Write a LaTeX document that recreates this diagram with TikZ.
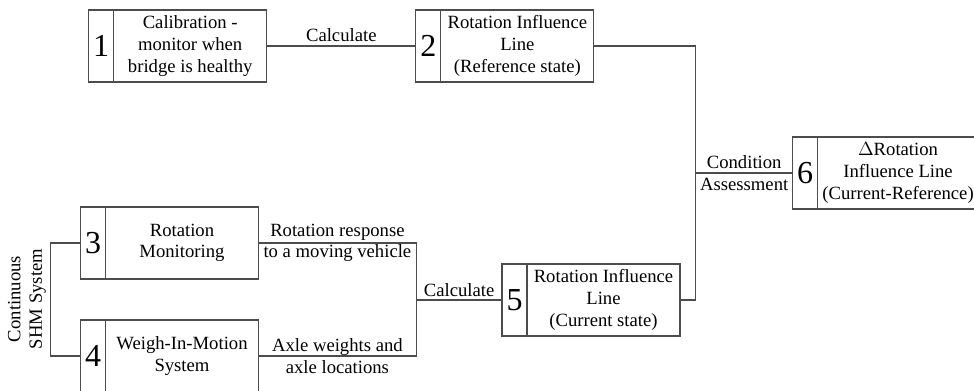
\documentclass[tikz,border=0pt]{standalone}
\usepackage{fontspec}
\setmainfont{Liberation Serif}
\usepackage{xcolor}
\usetikzlibrary{calc, positioning}

\tikzset{
  numbox/.style={draw=black!70, line width=0.8pt, minimum width=18.75pt, minimum height=54pt,
    inner sep=0pt, outer sep=0pt, font=\fontsize{24}{26}\selectfont},
  textbox/.style={draw=black!70, line width=0.8pt, minimum width=114.75pt, minimum height=54pt,
    inner sep=0pt, outer sep=0pt, align=center, font=\fontsize{14}{16.2}\selectfont},
  lbl/.style={align=center, inner sep=1pt, font=\fontsize{14}{16.2}\selectfont},
  link/.style={draw=black!70, line width=0.8pt}
}

\begin{document}
\begin{tikzpicture}[x=0.75pt, y=-0.75pt]
  \useasboundingbox (0,0) rectangle (974,391);
  \clip (0,0) rectangle (974,391);

  % Reference state (top row)
  \node[numbox] (n1) at (101.2,46) {1};
  \node[textbox, right=0pt of n1] (b1) {Calibration -\\monitor when\\bridge is healthy};
  \node[numbox] (n2) at (428.4,46) {2};
  \node[textbox, right=0pt of n2] (b2) {Rotation Influence\\Line\\(Reference state)};

  % Monitoring inputs
  \node[numbox] (n3) at (93,243) {3};
  \node[textbox, right=0pt of n3] (b3) {Rotation\\Monitoring};
  \node[numbox] (n4) at (93,356) {4};
  \node[textbox, right=0pt of n4] (b4) {Weigh-In-Motion\\System};

  % Current state and result
  \node[numbox] (n5) at (514.5,300) {5};
  \node[textbox, right=0pt of n5] (b5) {Rotation Influence\\Line\\(Current state)};
  \node[numbox] (n6) at (805.2,173) {6};
  \node[textbox, right=0pt of n6, minimum width=120.5pt] (b6) {$\Delta$Rotation\\Influence Line\\(Current-Reference)};

  % Junctions
  \coordinate (jl) at (50.3,300);
  \coordinate (jm) at (416.3,300);
  \path (n6.west) ++(-97,0) coordinate (jr);

  % Connectors
  \draw[link] (b1.east) -- node[lbl, above=2pt] {Calculate} (n2.west);
  \draw[link] (n3.west) -| (jl) |- (n4.west);
  \draw[link] (b3.east) -| (jm) |- (b4.east);
  \draw[link] (jm) -- node[lbl, above=1pt] {Calculate} (n5.west);
  \draw[link] (b2.east) -| (jr) |- (b5.east);
  \draw[link] (jr) -- (n6.west);

  % Labels on the connectors
  \node[lbl] (rresp) at ($(b3.east)!0.5!(b3.east -| jm)$) {Rotation response\\to a moving vehicle};
  \node[lbl] (axle) at ($(b4.east)!0.5!(b4.east -| jm)$) {Axle weights and\\axle locations};
  \node[lbl] (cond) at ($(jr)!0.5!(n6.west)$) {Condition\\Assessment};
  \node[lbl, rotate=90] (shm) at (27,299) {Continuous\\SHM System};
\end{tikzpicture}
\end{document}
